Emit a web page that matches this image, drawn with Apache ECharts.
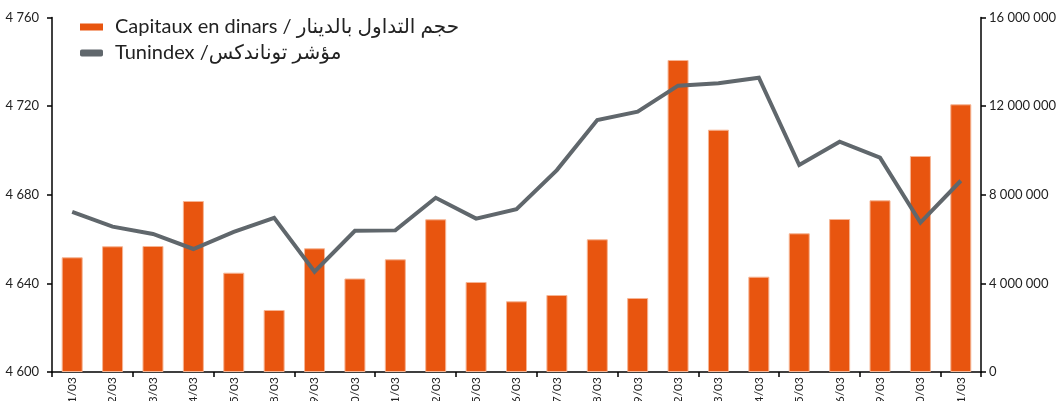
<!DOCTYPE html>
<html>
<head>
<meta charset="utf-8">
<script src="https://cdn.jsdelivr.net/npm/echarts@6/dist/echarts.min.js"></script>
<style>
html,body{margin:0;padding:0;background:#fff;}
#c{width:1057px;height:401px;}
</style>
</head>
<body>
<div id="c"></div>
<script>
const categories = ['01/03','02/03','03/03','04/03','05/03','08/03','09/03','10/03','11/03','12/03','15/03','16/03','17/03','18/03','19/03','22/03','23/03','24/03','25/03','26/03','29/03','30/03','31/03'];
const capitaux = [5175000,5672000,5685000,7716000,4481000,2798000,5582000,4219000,5085000,6890000,4061000,3190000,3474000,5988000,3339000,14078000,10933000,4300000,6258000,6904000,7747000,9746000,12079000];
const tunindex = [4672.2,4665.6,4662.3,4655.5,4663.2,4669.6,4645.3,4663.7,4663.9,4678.6,4669.2,4673.5,4691.1,4713.7,4717.5,4729.2,4730.3,4732.8,4693.4,4703.9,4696.7,4667.4,4686.3];
const leftTicks = {min:4600, max:4760, interval:40};
const rightTicks = {min:0, max:16000000, interval:4000000};
const barName = 'Capitaux en dinars / حجم التداول بالدينار';
const lineName = 'Tunindex /مؤشر توناندكس';

function spaced(v){ return String(Math.round(v)).replace(/\B(?=(\d{3})+(?!\d))/g,' '); }

const font = 'Lato, "DejaVu Sans", sans-serif';
const chart = echarts.init(document.getElementById('c'), null, {renderer:'canvas'});
chart.setOption({
  animation:false,
  backgroundColor:'#fff',
  textStyle:{fontFamily:font},
  grid:{left:52, right:76, top:17.4, bottom:29, containLabel:false, outerBoundsMode:'none'},
  legend:{
    left:80, top:17, orient:'vertical', itemGap:6, padding:0,
    itemWidth:23, itemHeight:7,
    textStyle:{fontSize:20, color:'#222', fontFamily:font, padding:[0,0,0,7], lineHeight:20},
    data:[{name:barName, icon:'rect', itemStyle:{borderWidth:0}},{name:lineName, icon:'roundRect', itemStyle:{color:'#60676c'}}]
  },
  xAxis:{
    type:'category', data:categories, boundaryGap:true,
    axisLine:{lineStyle:{color:'#000', width:1.5}},
    axisTick:{show:true, interval:1, length:5, lineStyle:{color:'#000', width:1.5}},
    axisLabel:{rotate:90, interval:0, fontSize:12, color:'#222', margin:5, fontFamily:font}
  },
  yAxis:[
    {type:'value', position:'left', min:leftTicks.min, max:leftTicks.max, interval:leftTicks.interval,
     splitLine:{show:false},
     axisLine:{show:true, lineStyle:{color:'#000', width:1.5}},
     axisTick:{show:true, length:5, lineStyle:{color:'#000', width:1.5}},
     axisLabel:{fontSize:13, color:'#222', margin:13, formatter:spaced, fontFamily:font}},
    {type:'value', position:'right', min:rightTicks.min, max:rightTicks.max, interval:rightTicks.interval,
     splitLine:{show:false},
     axisLine:{show:true, lineStyle:{color:'#000', width:1.5}},
     axisTick:{show:true, length:5, lineStyle:{color:'#000', width:1.5}},
     axisLabel:{fontSize:13, color:'#222', margin:8, formatter:spaced, fontFamily:font}}
  ],
  series:[
    {name:barName, type:'bar', yAxisIndex:1, data:capitaux, barWidth:21,
     itemStyle:{color:'#e8550f', borderColor:'#f6b594', borderWidth:1}, z:2},
    {name:lineName, type:'line', yAxisIndex:0, data:tunindex, showSymbol:false, symbol:'none',
     lineStyle:{color:'#60676c', width:4, join:'miter'}, itemStyle:{color:'#60676c'}, z:3}
  ]
});
</script>
</body>
</html>
